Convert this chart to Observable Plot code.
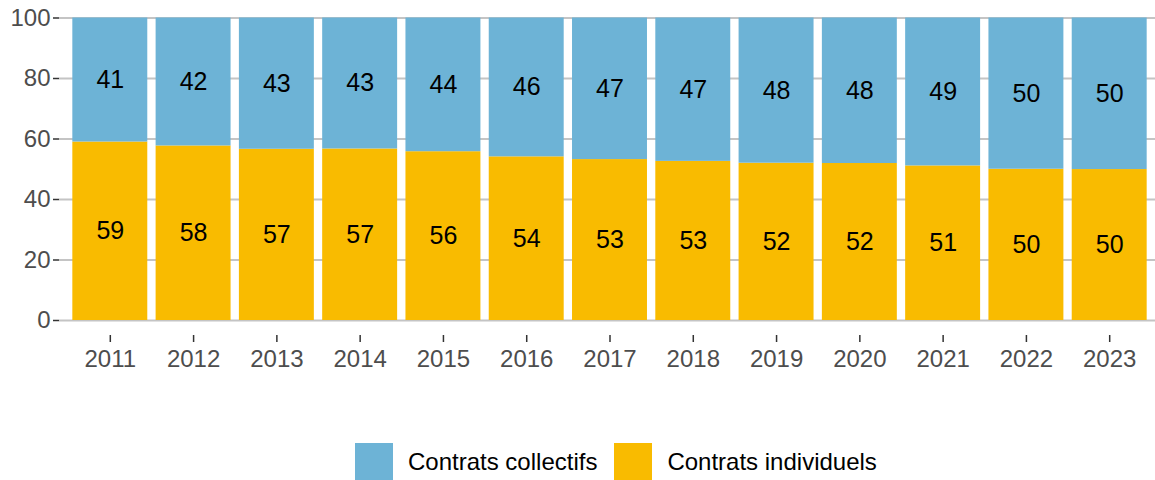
<!DOCTYPE html>
<html>
<head>
<meta charset="utf-8">
<script src="https://cdn.jsdelivr.net/npm/d3@7"></script>
<script src="https://cdn.jsdelivr.net/npm/@observablehq/plot@0.6"></script>
<style>
  html, body { margin: 0; padding: 0; background: #fff; }
  body { width: 1155px; height: 480px; overflow: hidden; font-family: "Liberation Sans", Arial, sans-serif; }
  #legend { position: absolute; left: 355px; top: 443px; display: flex; align-items: center; font-size: 24px; color: #000; }
  .sw { width: 38px; height: 38px; display: inline-block; }
  .lab { margin-left: 15px; margin-right: 17px; }
</style>
</head>
<body>
<div id="chart"></div>
<div id="legend"></div>
<script>
const years = ["2011","2012","2013","2014","2015","2016","2017","2018","2019","2020","2021","2022","2023"];
const individuels = [59.0, 57.7, 56.6, 56.7, 55.8, 54.1, 53.2, 52.6, 52.0, 51.9, 51.1, 50.0, 49.9];
const collectifs = [41.0, 42.3, 43.4, 43.3, 44.2, 45.9, 46.8, 47.4, 48.0, 48.1, 48.9, 50.0, 50.1];
const seriesNames = ["Contrats collectifs", "Contrats individuels"];
const seriesColors = ["#6db3d6", "#f9bb00"];
const yTicks = [0, 20, 40, 60, 80, 100];

const rows = [];
years.forEach((y, i) => {
  rows.push({year: y, serie: seriesNames[1], value: individuels[i]});
  rows.push({year: y, serie: seriesNames[0], value: collectifs[i]});
});
const order = [seriesNames[1], seriesNames[0]];

const chart = Plot.plot({
  width: 1155,
  height: 380,
  marginTop: 17.5,
  marginLeft: 59,
  marginRight: 0,
  marginBottom: 45,
  insetLeft: 5,
  insetBottom: 15,
  style: {fontFamily: "'Liberation Sans', Arial, sans-serif", fontSize: "24px", color: "#4d4d4d", background: "#fff"},
  x: {domain: years, padding: 0.1, round: false, label: null},
  y: {domain: [0, 100], label: null},
  color: {domain: seriesNames, range: seriesColors},
  marks: [
    Plot.gridY(yTicks, {stroke: "#c4c4c4", strokeOpacity: 1, strokeWidth: 2}),
    Plot.axisY(yTicks, {tickSize: 6, tickPadding: 3, stroke: "#333", strokeWidth: 1.5, fill: "#4d4d4d", fontSize: 24, label: null}),
    Plot.axisX({tickSize: 7, tickPadding: 7, stroke: "#333", strokeWidth: 1.5, fill: "#4d4d4d", fontSize: 24, label: null}),
    Plot.barY(rows, {x: "year", y: "value", fill: "serie", order}),
    Plot.text(rows, Plot.stackY({x: "year", y: "value", z: "serie", order, text: d => String(Math.round(d.value)), fill: "#000", fontSize: 25}))
  ]
});
document.getElementById("chart").appendChild(chart);

const legend = document.getElementById("legend");
seriesNames.forEach((name, i) => {
  const sw = document.createElement("span");
  sw.className = "sw";
  sw.style.background = seriesColors[i];
  const lab = document.createElement("span");
  lab.className = "lab";
  lab.textContent = name;
  legend.appendChild(sw);
  legend.appendChild(lab);
});
</script>
</body>
</html>
